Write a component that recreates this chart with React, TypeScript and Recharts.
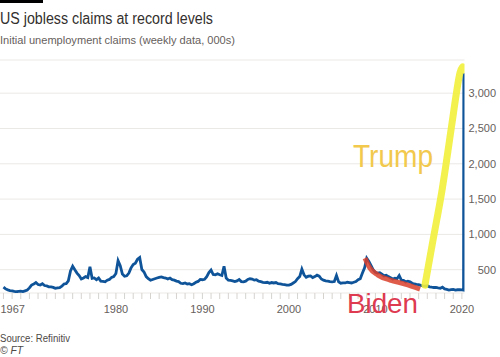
import { LineChart, Line, XAxis, YAxis, CartesianGrid } from "recharts";

const START_YEAR = 1967;

// initial jobless claims, 000s, read off the chart roughly once a quarter
const quarterlyClaims = [
  252, 228, 214, 205, // 1967
  200, 192, 188, 192, // 1968
  196, 190, 201, 212, // 1969
  242, 282, 296, 318, // 1970
  290, 284, 302, 276, // 1971
  270, 258, 256, 250, // 1972
  236, 241, 246, 266, // 1973
  298, 302, 342, 482, // 1974
  548, 498, 452, 418, // 1975
  368, 382, 402, 388, // 1976
  540, 378, 384, 358, // 1977
  382, 338, 334, 328, // 1978
  352, 362, 392, 404, // 1979
  446, 628, 556, 438, // 1980
  408, 414, 452, 526, // 1981
  574, 592, 648, 672, // 1982
  502, 468, 402, 372, // 1983
  350, 362, 372, 382, // 1984
  392, 398, 388, 382, // 1985
  368, 382, 358, 352, // 1986
  338, 332, 308, 302, // 1987
  312, 298, 302, 288, // 1988
  302, 322, 334, 362, // 1989
  358, 364, 402, 458, // 1990
  494, 432, 428, 442, // 1991
  428, 418, 548, 382, // 1992
  352, 348, 342, 332, // 1993
  342, 362, 332, 328, // 1994
  338, 362, 372, 368, // 1995
  352, 358, 338, 332, // 1996
  322, 318, 322, 308, // 1997
  318, 312, 318, 302, // 1998
  298, 292, 288, 282, // 1999
  282, 292, 312, 332, // 2000
  372, 402, 508, 428, // 2001
  392, 408, 412, 388, // 2002
  402, 422, 408, 368, // 2003
  352, 342, 338, 332, // 2004
  328, 332, 418, 328, // 2005
  308, 312, 312, 322, // 2006
  318, 312, 322, 332, // 2007
  358, 372, 452, 528, // 2008
  662, 618, 558, 498, // 2009
  462, 452, 458, 438, // 2010
  412, 422, 402, 388, // 2011
  368, 378, 372, 418, // 2012
  352, 348, 328, 338, // 2013
  328, 308, 298, 292, // 2014
  288, 278, 272, 268, // 2015
  272, 258, 252, 248, // 2016
  248, 242, 238, 252, // 2017
  228, 222, 212, 218, // 2018
  222, 212, 216, 218, // 2019
  214, // 2020
];

const finalWeeks = [
  { year: 2020.19, value: 211 },
  { year: 2020.22, value: 3283 },
];

// hand-drawn annotations, traced in chart units
const trumpScribble = [
  { year: 2015.73, value: 282 },
  { year: 2016.66, value: 918 },
  { year: 2017.7, value: 1624 },
  { year: 2018.85, value: 2571 },
  { year: 2019.32, value: 2966 },
  { year: 2019.78, value: 3291 },
  { year: 2020.1, value: 3376 },
  { year: 2020.28, value: 3330 },
];

const bidenScribble = [
  { year: 2008.8, value: 664 },
  { year: 2009.37, value: 523 },
  { year: 2010.3, value: 424 },
  { year: 2011.69, value: 353 },
  { year: 2013.42, value: 297 },
  { year: 2015.16, value: 226 },
];

const yTicks = [500, 1000, 1500, 2000, 2500, 3000];
const labelYears = [1967, 1980, 1990, 2000, 2010, 2020];
const yearTicks = Array.from({ length: 2020 - 1967 + 1 }, (_, i) => 1967 + i);

const series = [
  ...quarterlyClaims.map((v, i) => ({ year: START_YEAR + i * 0.25, value: v })),
  ...finalWeeks,
];

const FONT = '"Liberation Sans", Arial, sans-serif';
const GREY = "#66605c";

function YearTick({ x, y, payload }: any) {
  const yr = payload.value;
  if (!labelYears.includes(yr)) return null;
  const first = yr === 1967;
  return (
    <text
      x={first ? x - 3 : x}
      y={y}
      dy="0.71em"
      textAnchor={first ? "start" : "middle"}
      fontSize={11}
      fontFamily={FONT}
      fill={GREY}
    >
      {yr}
    </text>
  );
}

function ValueTick({ y, payload }: any) {
  return (
    <text x={496} y={y} dy="0.355em" textAnchor="end" fontSize={11} fontFamily={FONT} fill={GREY}>
      {payload.value.toLocaleString("en-US")}
    </text>
  );
}

export default function App() {
  return (
    <div style={{ position: "relative", width: 500, height: 357, background: "#fff", fontFamily: FONT }}>
      <style>{"body{margin:0}"}</style>
      <div style={{ position: "absolute", left: 0, top: 0 }}>
        <LineChart width={500} height={318} margin={{ top: 60, right: 0, bottom: 0, left: 0 }}>
          <CartesianGrid vertical={false} stroke="#ebe9e6" />
          <XAxis
            type="number"
            dataKey="year"
            domain={[1966.6, 2020.3]}
            allowDataOverflow
            ticks={yearTicks}
            interval={0}
            axisLine={false}
            tickLine={{ stroke: "#d6d3cf" }}
            tickSize={6}
            tickMargin={6}
            tick={<YearTick />}
            height={25}
          />
          <YAxis
            orientation="right"
            domain={[170, 3470]}
            allowDataOverflow
            ticks={yTicks}
            axisLine={false}
            tickLine={false}
            tick={<ValueTick />}
            width={35.5}
          />
          <Line
            data={series}
            dataKey="value"
            type="linear"
            stroke="#0f5499"
            strokeWidth={2.8}
            dot={false}
            isAnimationActive={false}
          />
          <Line
            data={bidenScribble}
            dataKey="value"
            type="monotone"
            stroke="#d9402b"
            strokeWidth={5}
            strokeOpacity={0.85}
            dot={false}
            isAnimationActive={false}
          />
          <Line
            data={trumpScribble}
            dataKey="value"
            type="monotone"
            stroke="#f1f03a"
            strokeWidth={7}
            strokeOpacity={0.9}
            strokeLinecap="round"
            dot={false}
            isAnimationActive={false}
          />
        </LineChart>
      </div>
      <svg width={500} height={357} style={{ position: "absolute", left: 0, top: 0, pointerEvents: "none" }}>
        <rect x={0} y={0} width={43} height={3} fill="#000" />
        <text x={0} y={24} fontSize={16} fontFamily={FONT} fill="#33302e" textLength={213} lengthAdjust="spacingAndGlyphs">
          US jobless claims at record levels
        </text>
        <text x={0} y={44} fontSize={11} fontFamily={FONT} fill={GREY} textLength={235} lengthAdjust="spacingAndGlyphs">
          Initial unemployment claims (weekly data, 000s)
        </text>
        <text x={353} y={167} fontSize={32} fontFamily={FONT} fill="#f2c94c" textLength={80} lengthAdjust="spacingAndGlyphs">
          Trump
        </text>
        <text x={347} y={313} fontSize={28} fontFamily={FONT} fill="#de3a50" textLength={71} lengthAdjust="spacingAndGlyphs">
          Biden
        </text>
        <text x={0} y={342} fontSize={10} fontFamily={FONT} fill="#4d4845" textLength={70} lengthAdjust="spacingAndGlyphs">
          Source: Refinitiv
        </text>
        <text x={0} y={354} fontSize={10} fontStyle="italic" fontFamily={FONT} fill="#4d4845" textLength={23} lengthAdjust="spacingAndGlyphs">
          © FT
        </text>
      </svg>
    </div>
  );
}
